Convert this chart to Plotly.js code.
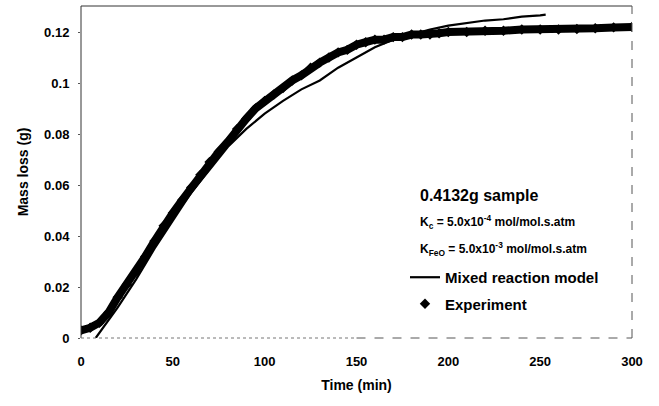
<!DOCTYPE html>
<html>
<head>
<meta charset="utf-8">
<script src="https://cdn.plot.ly/plotly-3.0.1.min.js"></script>
<style>html,body{margin:0;padding:0;background:#fff;}#chart{width:659px;height:406px;}</style>
</head>
<body>
<div id="chart"></div>
<script>
// Experiment (time in min, mass loss in g)
const expTime = [0,5,10,15,20,25,30,35,40,45,50,55,60,65,70,75,80,85,90,95,100,105,110,115,120,125,130,135,140,145,150,155,160,165,170,175,180,185,190,195,200,210,220,230,240,250,260,270,280,290,300];
const expMass = [0.003,0.004,0.006,0.010,0.016,0.021,0.026,0.032,0.038,0.044,0.049,0.054,0.059,0.064,0.069,0.073,0.077,0.082,0.086,0.090,0.093,0.0955,0.098,0.101,0.103,0.106,0.108,0.110,0.112,0.113,0.115,0.116,0.117,0.117,0.118,0.118,0.119,0.119,0.119,0.1195,0.120,0.120,0.1205,0.1205,0.121,0.121,0.121,0.1212,0.1215,0.1218,0.122];
// Mixed reaction model
const modelTime = [8,15,20,30,40,50,60,70,80,90,100,110,120,130,140,150,160,170,180,190,200,210,220,230,240,250,253];
const modelMass = [0,0.007,0.012,0.023,0.035,0.046,0.057,0.066,0.075,0.082,0.088,0.093,0.0975,0.101,0.106,0.110,0.114,0.117,0.119,0.121,0.1225,0.1235,0.1245,0.125,0.126,0.1265,0.1268];
const xTicks = [0,50,100,150,200,250,300];
const yTicks = [0,0.02,0.04,0.06,0.08,0.1,0.12];
const yTickText = ['0','0.02','0.04','0.06','0.08','0.1','0.12'];

const font = 'Arial, "Liberation Sans", sans-serif';

const traces = [
  {x: expTime, y: expMass, mode: 'lines', line: {color: '#000', width: 8},
   showlegend: false, hoverinfo: 'skip'},
  {x: modelTime, y: modelMass, mode: 'lines', name: 'Mixed reaction model',
   line: {color: '#000', width: 2.2}, legendgroup: 'a'},
  {x: expTime, y: expMass, mode: 'markers', name: 'Experiment',
   marker: {symbol: 'diamond', size: 8, color: '#000'}, legendgroup: 'b'}
];

const layout = {
  width: 659, height: 406,
  margin: {l: 81, r: 27, t: 6, b: 68},
  paper_bgcolor: '#fff', plot_bgcolor: '#fff',
  font: {family: font, color: '#000', size: 12},
  xaxis: {range: [0, 300], tickvals: xTicks, ticks: 'outside', ticklen: 0, ticklabelstandoff: 11,
          showgrid: false, zeroline: false, showline: false,
          tickfont: {size: 13, family: font, weight: 'bold'},
          title: {text: 'Time (min)', font: {size: 14, family: font, weight: 'bold'}, standoff: 12}},
  yaxis: {range: [0, 0.1302], tickvals: yTicks, ticktext: yTickText, ticks: 'outside', ticklen: 2,
          tickcolor: '#555', ticklabelstandoff: 6, showgrid: false, zeroline: false, showline: false,
          tickfont: {size: 13, family: font, weight: 'bold'},
          title: {text: 'Mass loss (g)', font: {size: 14, family: font, weight: 'bold'}, standoff: 12}},
  showlegend: true,
  legend: {x: 0.588, y: 0.232, xanchor: 'left', yanchor: 'top', bgcolor: 'rgba(0,0,0,0)',
           traceorder: 'grouped', tracegroupgap: 4, itemwidth: 30,
           font: {size: 15, family: font, weight: 'bold'}},
  shapes: [
    {type: 'line', xref: 'paper', yref: 'paper', x0: 0, x1: 0, y0: 0, y1: 1, line: {color: '#333', width: 1}},
    {type: 'line', xref: 'paper', yref: 'paper', x0: 0, x1: 1, y0: 1, y1: 1, line: {color: '#333', width: 1}},
    {type: 'line', xref: 'paper', yref: 'paper', x0: 1, x1: 1, y0: 0, y1: 1, line: {color: '#555', width: 1, dash: 'dash'}},
    {type: 'line', xref: 'paper', yref: 'paper', x0: 0, x1: 0.5, y0: 0, y1: 0, line: {color: '#777', width: 1, dash: 'dot'}},
    {type: 'line', xref: 'paper', yref: 'paper', x0: 0.5, x1: 1, y0: 0, y1: 0, line: {color: '#555', width: 1, dash: 'dash'}}
  ],
  annotations: [
    {xref: 'paper', yref: 'paper', x: 0.612, y: 0.43, xanchor: 'left', yanchor: 'middle', showarrow: false,
     text: '0.4132g sample', font: {size: 16, family: font, weight: 'bold'}},
    {xref: 'paper', yref: 'paper', x: 0.612, y: 0.348, xanchor: 'left', yanchor: 'middle', showarrow: false,
     text: 'K<sub>c</sub> = 5.0x10<sup>-4</sup> mol/mol.s.atm', font: {size: 12, family: font, weight: 'bold'}},
    {xref: 'paper', yref: 'paper', x: 0.612, y: 0.268, xanchor: 'left', yanchor: 'middle', showarrow: false,
     text: 'K<sub>FeO</sub> = 5.0x10<sup>-3</sup> mol/mol.s.atm', font: {size: 12, family: font, weight: 'bold'}}
  ]
};

Plotly.newPlot('chart', traces, layout, {displayModeBar: false, staticPlot: true});
</script>
</body>
</html>
